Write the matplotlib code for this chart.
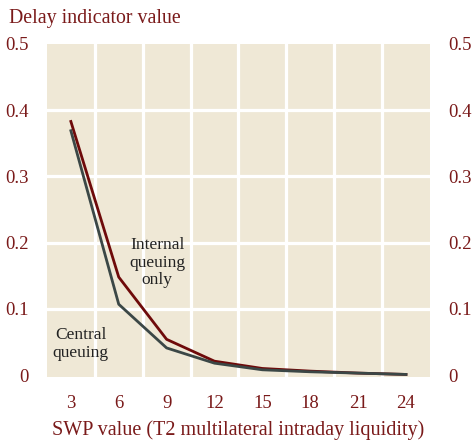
import matplotlib.pyplot as plt
import numpy as np

# SWP value steps and delay indicator for the two queuing regimes
swp = [3, 6, 9, 12, 15, 18, 21, 24]
internal_only = [0.383, 0.148, 0.054, 0.021, 0.010, 0.006, 0.003, 0.001]
central = [0.369, 0.107, 0.041, 0.018, 0.008, 0.005, 0.003, 0.001]
yticks = [0, 0.1, 0.2, 0.3, 0.4, 0.5]
ytick_labels = ['0', '0.1', '0.2', '0.3', '0.4', '0.5']

txt = '#7a1a1a'
plt.rcParams['font.family'] = ['Liberation Serif', 'DejaVu Serif']

fig = plt.figure(figsize=(4.74, 4.40), dpi=100)
ax = fig.add_axes([0.099, 0.143, 0.808, 0.757])
ax.set_facecolor('#efe8d6')

ax.plot(swp, internal_only, color='#6e0a0a', lw=2.0, zorder=3)
ax.plot(swp, central, color='#3b4746', lw=2.0, zorder=3)

ax.set_xlim(1.5, 25.5)
ax.set_ylim(-0.003, 0.5)
ax.set_xticks(swp)
ax.set_yticks(yticks)
ax.set_yticklabels(ytick_labels)

# white grid between the x ticks and on the y ticks
for xg in np.arange(4.5, 25, 3):
    ax.axvline(xg, color='white', lw=2.3, zorder=1)
for yg in yticks[1:-1]:
    ax.axhline(yg, color='white', lw=2.3, zorder=1)

for s in ax.spines.values():
    s.set_visible(False)
ax.tick_params(length=0, labelsize=13.5, colors=txt, pad=13,
               labelright=True, right=True)
ax.tick_params(axis='x', pad=13)

ax.set_xlabel('SWP value (T2 multilateral intraday liquidity)',
              fontsize=14.5, color=txt, labelpad=6)
fig.text(0.019, 0.958, 'Delay indicator value', fontsize=14.3,
         color=txt, va='center', ha='left')

ax.text(8.4, 0.170, 'Internal\nqueuing\nonly', fontsize=12.5,
        color='#222222', ha='center', va='center', linespacing=1.1)
ax.text(3.6, 0.047, 'Central\nqueuing', fontsize=12.5,
        color='#222222', ha='center', va='center', linespacing=1.1)

fig.savefig('out.png', dpi=100)
